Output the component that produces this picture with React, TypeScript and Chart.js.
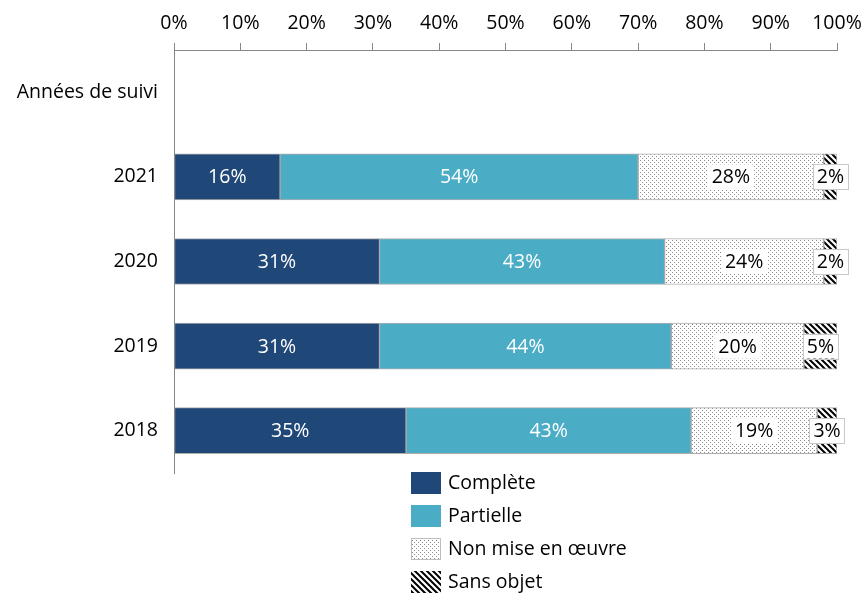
import React, { useEffect, useRef } from 'react';
import { Chart, registerables } from 'chart.js';
Chart.register(...registerables);

const categories = ['Années de suivi', '2021', '2020', '2019', '2018'];
const complete = [null, 16, 31, 31, 35];
const partielle = [null, 54, 43, 44, 43];
const nonMise = [null, 28, 24, 20, 19];
const sansObjet = [null, 2, 2, 5, 3];
const seriesLabels = ['Complète', 'Partielle', 'Non mise en œuvre', 'Sans objet'];
const solidColors = ['#1f4778', '#4bacc6'];

const FONT = '"Open Sans"';
const FS = 19.5;

function dotPattern(ctx: CanvasRenderingContext2D) {
  const c = document.createElement('canvas');
  c.width = 4; c.height = 4;
  const g = c.getContext('2d')!;
  g.fillStyle = '#ffffff'; g.fillRect(0, 0, 4, 4);
  g.fillStyle = '#8a8a8a';
  g.fillRect(0, 0, 1, 1); g.fillRect(2, 2, 1, 1);
  return ctx.createPattern(c, 'repeat')!;
}
function hatchPattern(ctx: CanvasRenderingContext2D) {
  const s = 6;
  const c = document.createElement('canvas');
  c.width = s; c.height = s;
  const g = c.getContext('2d')!;
  g.fillStyle = '#ffffff'; g.fillRect(0, 0, s, s);
  g.strokeStyle = '#000000'; g.lineWidth = 2;
  g.beginPath();
  g.moveTo(-1, -1); g.lineTo(s + 1, s + 1);
  g.moveTo(s - 1, -1); g.lineTo(s + 1, 1);
  g.moveTo(-1, s - 1); g.lineTo(1, s + 1);
  g.stroke();
  return ctx.createPattern(c, 'repeat')!;
}

export default function App() {
  const ref = useRef<HTMLCanvasElement | null>(null);
  useEffect(() => {
    const canvas = ref.current!;
    const ctx = canvas.getContext('2d')!;
    const dots = dotPattern(ctx);
    const hatch = hatchPattern(ctx);
    const fills: any[] = [solidColors[0], solidColors[1], dots, hatch];

    const labelPlugin = {
      id: 'segLabels',
      afterDatasetsDraw(chart: any) {
        const c = chart.ctx;
        c.save();
        c.font = `${FS}px ${FONT}`;
        c.textAlign = 'center';
        c.textBaseline = 'middle';
        chart.data.datasets.forEach((ds: any, di: number) => {
          const meta = chart.getDatasetMeta(di);
          meta.data.forEach((bar: any, i: number) => {
            const v = ds.data[i];
            if (v == null) return;
            const p = bar.getProps(['x', 'y', 'base'], true);
            const cx = (p.x + p.base) / 2;
            const t = `${v}%`;
            if (di >= 2) {
              const w = c.measureText(t).width + 8;
              const h = 25;
              c.fillStyle = '#ffffff';
              c.fillRect(cx - w / 2, p.y - h / 2, w, h);
              if (di === 3) {
                c.strokeStyle = '#c8c8c8';
                c.lineWidth = 1;
                c.strokeRect(Math.round(cx - w / 2) + 0.5, Math.round(p.y - h / 2) + 0.5, Math.round(w), h);
              }
              c.fillStyle = '#000000';
            } else {
              c.fillStyle = '#ffffff';
            }
            c.fillText(t, cx, p.y + 1);
          });
        });
        c.restore();
      },
    };

    const legendPlugin = {
      id: 'customLegend',
      afterDraw(chart: any) {
        const c = chart.ctx;
        const top = chart.chartArea.bottom - 1;
        const bx = 411;
        c.save();
        c.font = `${FS}px ${FONT}`;
        c.textAlign = 'left';
        c.textBaseline = 'middle';
        seriesLabels.forEach((lab, i) => {
          const y = top + i * 33;
          c.fillStyle = fills[i];
          c.fillRect(bx, y, 30, 22);
          if (i === 2) {
            c.strokeStyle = '#bdbdbd';
            c.lineWidth = 1;
            c.strokeRect(bx + 0.5, y + 0.5, 29, 21);
          }
          c.fillStyle = '#000000';
          c.fillText(lab, bx + 37, y + 11);
        });
        c.restore();
      },
    };

    const mk = (label: string, data: any[], i: number) => ({
      label,
      data,
      backgroundColor: fills[i],
      borderColor: 'rgba(140,140,140,0.7)',
      borderWidth: 1,
      borderSkipped: false,
      barThickness: 46,
    });

    const chart = new Chart(canvas, {
      type: 'bar',
      data: {
        labels: categories,
        datasets: [
          mk(seriesLabels[0], complete, 0),
          mk(seriesLabels[1], partielle, 1),
          mk(seriesLabels[2], nonMise, 2),
          mk(seriesLabels[3], sansObjet, 3),
        ],
      },
      options: {
        indexAxis: 'y',
        responsive: false,
        animation: false,
        layout: { padding: { top: 0, left: 0, right: 26, bottom: 121 } },
        plugins: { legend: { display: false }, tooltip: { enabled: false } },
        scales: {
          x: {
            type: 'linear',
            position: 'top',
            stacked: true,
            min: 0,
            max: 100,
            ticks: {
              stepSize: 10,
              callback: (v: any) => `${v}%`,
              color: '#000',
              font: { family: FONT, size: FS },
              padding: 8,
              maxRotation: 0,
              autoSkip: false,
            },
            grid: { drawOnChartArea: false, drawTicks: true, tickLength: 7, color: '#868686' },
            border: { display: true, color: '#868686' },
            afterFit: (s: any) => { s.height = 50; s.paddingLeft = 0; s.paddingRight = 0; },
          },
          y: {
            type: 'category',
            stacked: true,
            ticks: { color: '#000', font: { family: FONT, size: FS }, padding: 16 },
            grid: { display: false, drawTicks: false },
            border: { display: true, color: '#868686' },
            afterFit: (s: any) => { s.width = 174; s.paddingTop = 0; s.paddingBottom = 0; },
          },
        },
      } as any,
      plugins: [labelPlugin, legendPlugin],
    });
    return () => chart.destroy();
  }, []);

  return (
    <div style={{ position: 'absolute', left: 0, top: 0, width: 863, height: 594, background: '#fff' }}>
      <canvas ref={ref} width={863} height={594} style={{ display: 'block' }} />
    </div>
  );
}
